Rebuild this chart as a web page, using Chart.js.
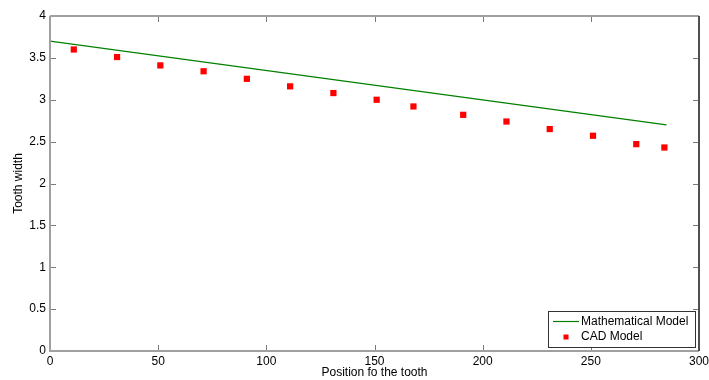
<!DOCTYPE html>
<html>
<head>
<meta charset="utf-8">
<script src="https://cdn.jsdelivr.net/npm/chart.js@4/dist/chart.umd.min.js"></script>
<style>
  html, body { margin: 0; padding: 0; background: #fff; }
  #wrap { width: 709px; height: 380px; }
</style>
</head>
<body>
<div id="wrap"><canvas id="c"></canvas></div>
<script>
// data
var mathX = [0, 285];
var mathY = [3.7, 2.7];
var cadX = [11, 31, 51, 71, 91, 111, 131, 151, 168, 191, 211, 231, 251, 271, 284];
var cadY = [3.60, 3.51, 3.41, 3.34, 3.25, 3.16, 3.08, 3.00, 2.92, 2.82, 2.74, 2.65, 2.57, 2.47, 2.43];
var seriesNames = ['Mathematical Model', 'CAD Model'];
var xTicks = [0, 50, 100, 150, 200, 250, 300];
var yTicks = [0, 0.5, 1, 1.5, 2, 2.5, 3, 3.5, 4];

var FONT = '"Liberation Sans", Arial, sans-serif';

function pts(xs, ys) {
    return xs.map(function(x, i) { return {x: x, y: ys[i]}; });
}

// matlab style box with inward ticks on all four sides
var boxPlugin = {
    id: 'box',
    afterDatasetsDraw: function(chart) {
        var ctx = chart.ctx, a = chart.chartArea;
        var xs = chart.scales.x, ys = chart.scales.y;
        var tl = 6;
        ctx.save();
        ctx.lineWidth = 1;
        ctx.strokeStyle = '#7a7a7a';
        xTicks.forEach(function(v) {
            var px = Math.round(xs.getPixelForValue(v)) + 0.5;
            ctx.beginPath();
            ctx.moveTo(px, a.bottom); ctx.lineTo(px, a.bottom - tl);
            ctx.moveTo(px, a.top); ctx.lineTo(px, a.top + tl);
            ctx.stroke();
        });
        yTicks.forEach(function(v) {
            var py = Math.round(ys.getPixelForValue(v)) + 0.5;
            ctx.beginPath();
            ctx.moveTo(a.left, py); ctx.lineTo(a.left + tl, py);
            ctx.moveTo(a.right, py); ctx.lineTo(a.right - tl, py);
            ctx.stroke();
        });
        // frame
        ctx.lineWidth = 2;
        ctx.strokeStyle = '#a0a0a0';
        ctx.beginPath();
        ctx.moveTo(a.left, a.top); ctx.lineTo(a.left, a.bottom); ctx.lineTo(a.right, a.bottom);
        ctx.moveTo(a.left, a.top); ctx.lineTo(a.right, a.top);
        ctx.stroke();
        ctx.strokeStyle = '#505050';
        ctx.beginPath();
        ctx.moveTo(a.right, a.top); ctx.lineTo(a.right, a.bottom);
        ctx.stroke();

        // legend inside lower right corner
        var w = 147, h = 36;
        var lx = a.right - 4 - w, ly = a.bottom - 4 - h;
        ctx.fillStyle = '#fff';
        ctx.fillRect(lx, ly, w, h);
        ctx.lineWidth = 1;
        ctx.strokeStyle = '#333';
        ctx.strokeRect(Math.round(lx) + 0.5, Math.round(ly) + 0.5, w, h);
        var ds = chart.data.datasets;
        ctx.font = '12px ' + FONT;
        ctx.textBaseline = 'middle';
        ctx.fillStyle = '#000';
        var r1 = ly + 10.5, r2 = ly + 26;
        ctx.strokeStyle = ds[0].borderColor;
        ctx.lineWidth = 1.2;
        ctx.beginPath();
        ctx.moveTo(lx + 5, r1); ctx.lineTo(lx + 31, r1);
        ctx.stroke();
        ctx.fillStyle = ds[1].backgroundColor;
        ctx.fillRect(lx + 15.5, r2 - 2.5, 5, 5);
        ctx.fillStyle = '#000';
        ctx.fillText(ds[0].label, lx + 33, r1);
        ctx.fillText(ds[1].label, lx + 33, r2);
        ctx.restore();
    }
};

var ctx = document.getElementById('c');
var myChart = new Chart(ctx, {
    type: 'scatter',
    data: {
        datasets: [{
            label: seriesNames[0],
            data: pts(mathX, mathY),
            showLine: true,
            borderColor: '#008000',
            backgroundColor: '#008000',
            borderWidth: 1.4,
            pointRadius: 0
        }, {
            label: seriesNames[1],
            data: pts(cadX, cadY),
            showLine: false,
            pointStyle: 'rect',
            pointRadius: 4.4,
            borderWidth: 0,
            backgroundColor: '#ff0000',
            borderColor: '#ff0000'
        }]
    },
    plugins: [boxPlugin],
    options: {
        responsive: true,
        maintainAspectRatio: false,
        animation: false,
        layout: { padding: { left: 0, right: 10, top: 16, bottom: 0 } },
        plugins: {
            legend: { display: false },
            tooltip: { enabled: false }
        },
        scales: {
            x: {
                type: 'linear',
                min: 0, max: 300,
                afterBuildTicks: function(s) { s.ticks = xTicks.map(function(v) { return {value: v}; }); },
                afterFit: function(s) { s.height = 29; s.paddingRight = 0; s.paddingLeft = 0; },
                grid: { display: false, drawTicks: false },
                border: { display: false },
                ticks: {
                    padding: 3,
                    color: '#000',
                    font: { family: FONT, size: 12 },
                    maxRotation: 0,
                    callback: function(v) { return String(v); }
                },
                title: {
                    display: true,
                    text: 'Position fo the tooth',
                    color: '#000',
                    font: { family: FONT, size: 12 },
                    padding: { top: 0, bottom: 0 }
                }
            },
            y: {
                type: 'linear',
                min: 0, max: 4,
                afterBuildTicks: function(s) { s.ticks = yTicks.map(function(v) { return {value: v}; }); },
                afterFit: function(s) { s.width = 50; s.paddingTop = 0; s.paddingBottom = 0; },
                grid: { display: false, drawTicks: false },
                border: { display: false },
                ticks: {
                    padding: 4,
                    color: '#000',
                    font: { family: FONT, size: 12 },
                    callback: function(v) { return String(v); }
                },
                title: {
                    display: true,
                    text: 'Tooth width',
                    color: '#000',
                    font: { family: FONT, size: 12 },
                    padding: { top: 11, bottom: 0 }
                }
            }
        }
    }
});
</script>
</body>
</html>
